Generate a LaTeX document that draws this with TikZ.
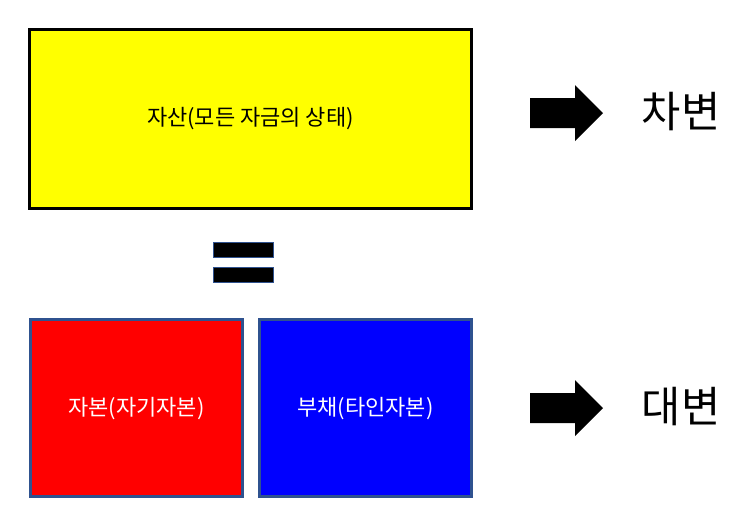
\documentclass[tikz,border=0pt]{standalone}
\usepackage{fontspec}
\setmainfont{Noto Sans CJK KR}
\definecolor{edgeblue}{HTML}{2F528F}
\definecolor{pureyellow}{RGB}{255,255,0}
\tikzset{
  lbl/.style={font=\fontsize{16.5}{20}\selectfont},
  big/.style={font=\fontsize{32}{38}\selectfont},
  half/.style={draw=edgeblue,line width=2.2pt,minimum width=159pt,minimum height=133pt,anchor=north west,text=white,lbl},
  eqbar/.style={fill=black,draw=edgeblue,line width=0.4pt,minimum width=45pt,minimum height=11pt,inner sep=0pt}
}
\newcommand{\blockarrow}[2]{%
  \fill[black] (#1,#2-15) -- (#1+45,#2-15) -- (#1+45,#2-28) -- (#1+73,#2) -- (#1+45,#2+28) -- (#1+45,#2+15) -- (#1,#2+15) -- cycle;}
\begin{document}
\begin{tikzpicture}[x=0.75pt,y=-0.75pt]
\useasboundingbox (0,0) rectangle (743,526);
\node[draw=black,fill=pureyellow,line width=2.2pt,minimum width=331.5pt,minimum height=134pt,anchor=north west,lbl] (asset) at (28,28) {자산(모든 자금의 상태)};
\node[eqbar] (eq1) at (243,249.5) {};
\node[eqbar] (eq2) at (243,275) {};
\node[half,fill=red] (equity) at (29,318) {자본(자기자본)};
\node[half,fill=blue] (debt) at (258,318) {부채(타인자본)};
\blockarrow{530}{113}
\blockarrow{530}{408}
\node[big] (dr) at (681,112) {차변};
\node[big] (cr) at (681,407) {대변};
\end{tikzpicture}
\end{document}
